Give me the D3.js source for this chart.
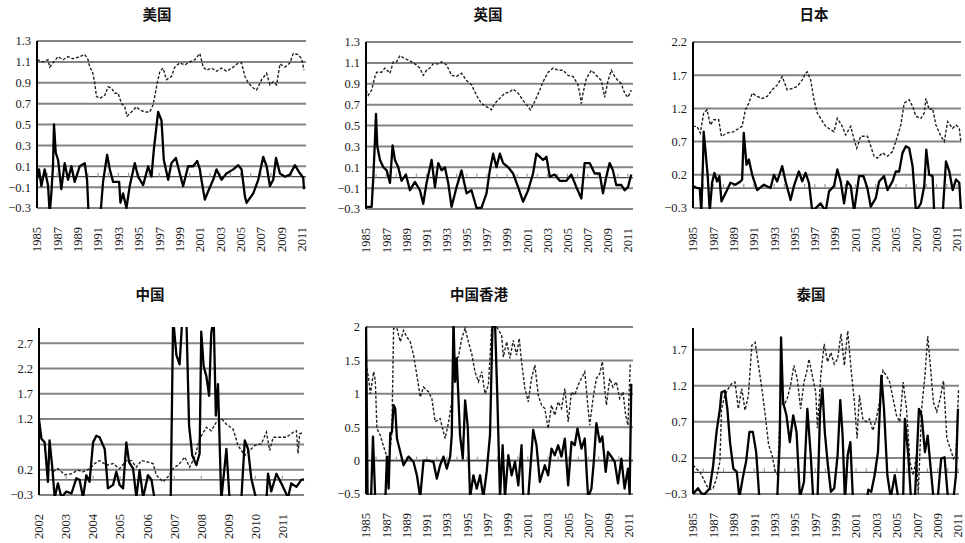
<!DOCTYPE html>
<html>
<head>
<meta charset="utf-8">
<script src="https://cdn.jsdelivr.net/npm/d3@7"></script>
<style>
  body { margin: 0; background: #fff; }
  .title { font-family: "Noto Sans CJK SC", sans-serif; font-weight: bold; font-size: 14.5px; fill: #111; }
  .tick-label { font-family: "Liberation Serif", "DejaVu Serif", serif; font-size: 12.5px; fill: #1a1a1a; }
</style>
</head>
<body>
<svg width="965" height="543"></svg>
<script>
// ---- data: [year, value] ----
var usDash = [[1985.0,1.12],[1985.59,1.10],[1986.08,1.12],[1986.25,1.05],[1986.57,1.09],[1987.07,1.15],[1987.56,1.12],[1988.05,1.15],[1988.54,1.13],[1989.2,1.15],[1989.69,1.17],[1990.02,1.12],[1990.18,1.05],[1990.44,1.01],[1990.67,0.90],[1990.84,0.77],[1991.16,0.75],[1991.66,0.78],[1991.98,0.86],[1992.31,0.85],[1992.64,0.80],[1992.97,0.80],[1993.3,0.70],[1993.62,0.67],[1993.85,0.58],[1994.28,0.62],[1994.77,0.67],[1995.1,0.64],[1995.59,0.62],[1996.08,0.62],[1996.41,0.69],[1996.74,0.86],[1997.07,1.01],[1997.39,1.04],[1997.72,0.93],[1998.21,0.96],[1998.54,1.05],[1999.03,1.09],[1999.52,1.07],[2000.02,1.10],[2000.51,1.12],[2001.0,1.18],[2001.33,1.05],[2001.66,1.02],[2002.15,1.04],[2002.64,1.01],[2003.13,1.04],[2003.62,1.01],[2004.28,1.05],[2004.77,1.09],[2005.1,1.09],[2005.43,0.96],[2005.75,0.90],[2006.25,0.85],[2006.57,0.83],[2007.07,0.93],[2007.56,0.99],[2007.89,0.88],[2008.21,0.91],[2008.54,0.88],[2008.87,1.08],[2009.36,1.05],[2009.85,1.09],[2010.18,1.18],[2010.67,1.17],[2011.0,1.13],[2011.23,1.02]];
var usSolid = [[1985.0,-0.03],[1985.2,0.07],[1985.43,-0.09],[1985.75,0.07],[1986.08,-0.08],[1986.25,-0.35],[1986.41,-0.16],[1986.57,0.10],[1986.67,0.50],[1986.84,0.23],[1987.07,0.16],[1987.39,-0.12],[1987.72,0.13],[1988.05,-0.03],[1988.38,0.10],[1988.7,-0.05],[1989.2,0.10],[1989.69,0.13],[1989.92,-0.03],[1990.11,-0.45],[1991.16,-0.45],[1991.49,-0.05],[1991.89,0.21],[1992.15,0.07],[1992.48,-0.05],[1993.07,-0.05],[1993.2,-0.25],[1993.46,-0.16],[1993.79,-0.30],[1994.11,-0.09],[1994.61,0.13],[1994.93,0.00],[1995.43,-0.08],[1995.92,0.10],[1996.25,0.00],[1996.48,0.26],[1996.9,0.62],[1997.23,0.54],[1997.46,0.16],[1997.89,-0.03],[1998.21,0.13],[1998.64,0.18],[1999.03,0.03],[1999.36,-0.09],[1999.85,0.10],[2000.34,0.10],[2000.74,0.15],[2001.0,0.07],[2001.16,-0.03],[2001.49,-0.22],[2001.82,-0.14],[2002.31,-0.03],[2002.64,0.07],[2003.13,-0.03],[2003.62,0.03],[2004.28,0.07],[2004.77,0.11],[2005.1,0.07],[2005.43,-0.19],[2005.59,-0.25],[2006.25,-0.16],[2006.74,-0.03],[2007.23,0.19],[2007.56,0.10],[2007.89,-0.09],[2008.21,-0.03],[2008.48,0.18],[2008.87,0.03],[2009.36,0.00],[2009.85,0.02],[2010.34,0.11],[2010.84,0.03],[2011.16,-0.01],[2011.23,-0.12]];

var ukDash = [[1985.0,0.84],[1985.23,0.79],[1985.56,0.84],[1985.89,0.97],[1986.06,1.01],[1986.55,1.01],[1986.88,1.05],[1987.38,1.00],[1987.71,1.11],[1988.04,1.11],[1988.37,1.17],[1988.87,1.14],[1989.36,1.12],[1989.86,1.09],[1990.35,1.05],[1990.68,0.98],[1991.01,1.03],[1991.34,1.05],[1991.67,1.09],[1992.17,1.09],[1992.5,1.11],[1993.0,1.08],[1993.49,0.98],[1993.99,0.97],[1994.48,1.00],[1994.98,0.93],[1995.47,0.89],[1995.97,0.79],[1996.46,0.71],[1996.96,0.68],[1997.45,0.65],[1997.78,0.71],[1998.28,0.76],[1998.78,0.81],[1999.27,0.82],[1999.6,0.85],[2000.1,0.81],[2000.59,0.74],[2001.09,0.68],[2001.32,0.65],[2001.75,0.73],[2002.25,0.84],[2002.58,0.92],[2003.07,1.01],[2003.57,1.05],[2004.06,1.03],[2004.56,1.03],[2005.05,0.98],[2005.55,0.97],[2006.04,0.89],[2006.21,0.81],[2006.37,0.71],[2006.54,0.81],[2006.87,0.95],[2007.37,1.03],[2007.86,0.98],[2008.36,0.93],[2008.69,0.77],[2009.02,0.93],[2009.35,1.03],[2009.68,0.97],[2010.01,0.93],[2010.34,0.90],[2010.67,0.81],[2011.0,0.77],[2011.33,0.84]];
var ukSolid = [[1985.0,-0.28],[1985.56,-0.28],[1985.73,0.01],[1985.89,0.36],[1985.99,0.61],[1986.12,0.30],[1986.39,0.17],[1986.72,0.10],[1987.05,0.07],[1987.38,-0.05],[1987.64,0.31],[1987.87,0.17],[1988.2,0.10],[1988.53,-0.03],[1988.96,0.03],[1989.36,-0.12],[1989.86,-0.04],[1990.35,-0.12],[1990.68,-0.25],[1991.01,-0.05],[1991.51,0.17],[1991.84,-0.09],[1992.17,0.14],[1992.5,0.07],[1992.83,0.10],[1993.16,-0.05],[1993.49,-0.28],[1993.99,-0.09],[1994.48,0.07],[1994.98,-0.15],[1995.47,-0.12],[1995.97,-0.29],[1996.46,-0.29],[1996.96,-0.15],[1997.29,0.07],[1997.62,0.23],[1997.95,0.10],[1998.28,0.23],[1998.61,0.14],[1999.11,0.10],[1999.6,0.04],[2000.1,-0.09],[2000.59,-0.23],[2001.09,-0.12],[2001.58,0.04],[2001.91,0.23],[2002.25,0.20],[2002.58,0.17],[2002.91,0.20],[2003.24,0.01],[2003.73,0.03],[2004.23,-0.03],[2004.89,-0.03],[2005.38,0.03],[2005.88,-0.09],[2006.37,-0.20],[2006.7,0.14],[2007.2,0.14],[2007.7,0.04],[2008.19,0.04],[2008.52,-0.15],[2008.85,0.01],[2009.18,0.14],[2009.51,0.07],[2009.84,-0.07],[2010.34,-0.07],[2010.67,-0.12],[2011.0,-0.09],[2011.33,0.03]];

var jpDash = [[1985.0,0.93],[1985.39,0.93],[1985.72,0.83],[1986.05,1.13],[1986.38,1.18],[1986.71,0.95],[1987.04,1.03],[1987.53,1.03],[1987.8,0.78],[1988.36,0.83],[1989.02,0.85],[1989.51,0.90],[1989.84,0.93],[1990.17,1.18],[1990.5,1.28],[1990.83,1.43],[1991.32,1.38],[1991.81,1.35],[1992.31,1.38],[1992.8,1.48],[1993.29,1.55],[1993.79,1.68],[1994.28,1.48],[1994.78,1.50],[1995.27,1.53],[1995.76,1.63],[1996.09,1.73],[1996.26,1.75],[1996.59,1.63],[1996.92,1.33],[1997.24,1.13],[1997.57,1.05],[1998.07,0.93],[1998.56,0.88],[1998.89,0.85],[1999.22,1.05],[1999.71,0.93],[2000.04,0.80],[2000.54,0.93],[2000.87,0.73],[2001.13,0.60],[2001.52,0.78],[2002.18,0.78],[2002.51,0.63],[2002.84,0.48],[2003.17,0.45],[2003.66,0.53],[2004.16,0.48],[2004.65,0.55],[2005.14,0.78],[2005.47,0.95],[2005.8,1.28],[2006.3,1.33],[2006.63,1.23],[2006.96,1.08],[2007.45,1.05],[2007.78,1.13],[2007.94,1.35],[2008.27,1.18],[2008.6,1.20],[2008.93,0.95],[2009.42,0.78],[2009.75,0.70],[2010.08,1.00],[2010.58,0.90],[2010.91,0.95],[2011.23,0.90],[2011.4,0.68]];
var jpSolid = [[1985.0,0.03],[1985.39,0.00],[1985.66,0.00],[1985.82,-0.35],[1985.99,0.43],[1986.05,0.85],[1986.22,0.58],[1986.45,0.18],[1986.65,-0.35],[1986.88,0.08],[1987.11,0.23],[1987.37,0.10],[1987.6,0.18],[1987.8,-0.20],[1988.36,-0.03],[1988.69,0.08],[1989.18,0.05],[1989.67,0.10],[1989.84,0.13],[1990.0,0.83],[1990.27,0.35],[1990.5,0.43],[1990.83,0.20],[1991.32,-0.03],[1991.98,0.05],[1992.64,0.00],[1992.97,0.20],[1993.29,0.10],[1993.79,0.33],[1994.12,0.10],[1994.61,-0.18],[1994.94,0.03],[1995.43,0.25],[1995.76,0.10],[1996.09,0.23],[1996.42,0.08],[1996.75,-0.35],[1997.57,-0.23],[1998.07,-0.35],[1998.4,-0.05],[1998.89,0.03],[1999.22,0.28],[1999.55,0.10],[1999.88,-0.23],[2000.21,0.10],[2000.54,0.03],[2000.87,-0.35],[2001.36,0.18],[2001.79,0.18],[2002.18,0.00],[2002.51,-0.28],[2003.01,-0.15],[2003.33,0.10],[2003.82,0.18],[2004.16,-0.03],[2004.65,0.10],[2004.98,0.25],[2005.31,0.25],[2005.64,0.53],[2005.97,0.63],[2006.3,0.60],[2006.63,0.33],[2006.96,-0.35],[2007.45,-0.23],[2007.78,0.03],[2007.98,0.58],[2008.27,0.20],[2008.6,0.18],[2008.77,-0.40],[2009.59,-0.40],[2009.92,0.40],[2010.25,0.25],[2010.58,-0.03],[2010.91,0.13],[2011.23,0.08],[2011.4,-0.35]];

var cnDash = [[2002.52,0.16],[2002.7,0.22],[2002.95,0.10],[2003.2,0.12],[2003.44,0.19],[2003.63,0.16],[2003.87,0.22],[2004.06,0.32],[2004.24,0.38],[2004.49,0.29],[2004.74,0.32],[2004.98,0.22],[2005.23,0.38],[2005.42,0.38],[2005.6,0.25],[2005.79,0.38],[2006.03,0.35],[2006.22,0.32],[2006.34,0.09],[2006.59,-0.04],[2006.77,0.06],[2006.96,0.22],[2007.2,0.32],[2007.39,0.45],[2007.57,0.25],[2007.76,0.45],[2007.94,0.81],[2008.19,1.04],[2008.37,0.97],[2008.56,1.14],[2008.74,1.21],[2008.93,1.10],[2009.18,1.00],[2009.36,0.68],[2009.61,0.48],[2009.79,0.58],[2009.98,0.68],[2010.22,0.71],[2010.41,0.94],[2010.53,0.58],[2010.66,0.84],[2010.9,0.84],[2011.15,0.84],[2011.4,0.94],[2011.52,0.97],[2011.58,0.52],[2011.64,0.91],[2011.77,0.94]];
var cnSolid = [[2002.0,1.20],[2002.09,0.81],[2002.21,0.74],[2002.27,0.35],[2002.33,-0.04],[2002.39,0.78],[2002.49,0.25],[2002.58,-0.35],[2002.7,-0.07],[2002.83,-0.35],[2003.01,-0.23],[2003.2,-0.27],[2003.38,0.03],[2003.5,0.0],[2003.63,-0.35],[2003.75,0.09],[2003.87,-0.04],[2004.0,0.74],[2004.12,0.87],[2004.24,0.84],[2004.43,0.61],[2004.55,-0.17],[2004.74,-0.10],[2004.86,0.16],[2004.98,-0.10],[2005.11,-0.17],[2005.23,0.74],[2005.33,0.35],[2005.48,0.22],[2005.6,-0.35],[2005.72,0.19],[2005.85,-0.35],[2006.03,0.09],[2006.16,0.0],[2006.28,-0.40],[2006.87,-0.40],[2006.96,3.2],[2007.08,2.47],[2007.2,2.28],[2007.3,3.2],[2007.45,3.2],[2007.55,1.07],[2007.67,0.48],[2007.82,0.29],[2007.94,0.52],[2008.0,2.93],[2008.09,2.24],[2008.19,2.05],[2008.29,1.66],[2008.37,2.9],[2008.46,3.2],[2008.54,1.27],[2008.62,1.89],[2008.74,-0.40],[2008.93,0.61],[2009.05,-0.40],[2009.48,-0.40],[2009.61,0.78],[2009.73,0.61],[2009.85,0.03],[2010.04,-0.40],[2010.41,-0.40],[2010.47,0.12],[2010.59,-0.23],[2010.78,0.12],[2010.96,-0.07],[2011.21,-0.35],[2011.33,-0.07],[2011.52,-0.14],[2011.7,0.0],[2011.8,0.01]];

var hkDash = [[1985.0,1.45],[1985.26,1.23],[1985.43,1.0],[1985.76,1.33],[1985.92,1.20],[1986.08,0.48],[1986.41,0.38],[1986.74,0.21],[1987.07,0.06],[1987.33,0.06],[1987.56,0.43],[1987.73,1.98],[1988.06,1.98],[1988.39,1.78],[1988.71,1.95],[1989.04,1.85],[1989.37,1.78],[1989.7,1.58],[1990.03,1.28],[1990.36,0.95],[1990.69,1.10],[1991.18,1.03],[1991.51,0.93],[1991.84,0.58],[1992.33,0.63],[1992.82,0.33],[1993.15,0.56],[1993.48,0.88],[1993.65,1.53],[1994.14,1.55],[1994.47,1.83],[1994.8,1.98],[1995.12,1.78],[1995.45,1.60],[1995.78,1.33],[1996.11,1.18],[1996.44,1.33],[1996.77,1.0],[1997.1,1.13],[1997.43,2.0],[1997.92,2.0],[1998.41,1.88],[1998.58,1.55],[1998.91,1.78],[1999.23,1.53],[1999.56,1.80],[1999.89,1.58],[2000.15,1.83],[2000.38,1.48],[2000.71,1.08],[2001.04,0.88],[2001.37,1.23],[2001.7,1.43],[2002.03,0.98],[2002.36,0.83],[2002.68,0.78],[2003.01,0.48],[2003.34,0.83],[2003.67,0.68],[2004.0,0.88],[2004.33,0.78],[2004.66,1.08],[2004.99,0.58],[2005.32,1.03],[2005.64,0.98],[2005.97,1.13],[2006.3,1.23],[2006.63,1.33],[2006.96,0.78],[2007.12,0.53],[2007.45,0.93],[2007.78,1.23],[2008.11,1.30],[2008.37,1.48],[2008.6,1.08],[2008.77,0.83],[2009.1,1.23],[2009.42,1.10],[2009.75,1.18],[2010.08,0.93],[2010.41,1.03],[2010.67,0.68],[2010.9,0.53],[2011.13,1.45]];
var hkSolid = [[1985.0,2.1],[1985.16,-0.6],[1985.49,-0.6],[1985.69,0.36],[1985.92,-0.6],[1986.91,-0.6],[1987.07,0.06],[1987.24,-0.42],[1987.4,0.41],[1987.56,0.43],[1987.73,0.83],[1987.89,0.78],[1988.06,0.33],[1988.39,0.13],[1988.71,-0.07],[1989.21,0.06],[1989.7,-0.02],[1990.03,-0.22],[1990.36,-0.55],[1990.69,0.0],[1991.18,0.0],[1991.67,-0.02],[1992.0,-0.27],[1992.33,-0.07],[1992.66,0.06],[1992.99,-0.12],[1993.32,0.06],[1993.48,0.38],[1993.65,2.1],[1993.81,1.18],[1993.97,1.53],[1994.3,0.38],[1994.57,0.03],[1994.8,0.90],[1995.06,0.51],[1995.29,-0.55],[1995.62,-0.22],[1995.95,-0.42],[1996.28,-0.22],[1996.6,-0.55],[1996.93,-0.17],[1997.26,0.38],[1997.52,2.1],[1997.75,2.1],[1997.98,0.98],[1998.25,-0.55],[1998.51,0.23],[1998.74,-0.55],[1999.07,0.08],[1999.4,-0.22],[1999.73,-0.02],[2000.06,-0.37],[2000.38,0.23],[2000.55,-0.55],[2001.04,-0.55],[2001.53,0.46],[2001.86,0.23],[2002.19,-0.32],[2002.68,-0.07],[2003.01,-0.22],[2003.34,0.18],[2003.67,0.08],[2004.0,0.23],[2004.33,0.06],[2004.66,0.33],[2004.99,-0.37],[2005.32,0.28],[2005.64,0.23],[2005.91,0.48],[2006.3,0.18],[2006.63,0.33],[2006.96,-0.55],[2007.29,-0.42],[2007.52,-0.02],[2007.78,0.56],[2008.11,0.28],[2008.37,0.36],[2008.7,-0.17],[2008.93,0.13],[2009.26,0.06],[2009.59,-0.02],[2009.92,-0.34],[2010.25,0.03],[2010.57,-0.42],[2010.9,-0.12],[2011.07,-0.5],[2011.23,1.15]];

var thDash = [[1985.0,0.10],[1985.33,0.05],[1985.66,0.01],[1985.99,-0.08],[1986.32,-0.18],[1986.65,-0.24],[1986.98,-0.22],[1987.31,-0.08],[1987.64,0.15],[1987.8,0.88],[1988.13,1.07],[1988.46,1.16],[1988.79,1.23],[1989.12,1.25],[1989.45,0.88],[1989.78,1.16],[1990.11,0.86],[1990.44,1.07],[1990.77,1.76],[1991.1,1.80],[1991.43,1.48],[1991.76,1.16],[1992.09,0.79],[1992.42,0.38],[1992.75,0.24],[1993.08,0.01],[1993.31,-0.04],[1993.58,0.97],[1993.91,0.93],[1994.24,1.02],[1994.57,1.20],[1994.9,1.48],[1995.23,1.30],[1995.56,0.88],[1995.89,1.25],[1996.22,1.43],[1996.38,1.57],[1996.71,1.34],[1997.04,1.11],[1997.21,0.61],[1997.54,1.34],[1997.87,1.78],[1998.2,1.53],[1998.53,1.66],[1998.86,1.50],[1999.19,1.57],[1999.52,1.92],[1999.85,1.48],[2000.18,1.96],[2000.51,1.43],[2000.84,0.97],[2001.1,0.47],[2001.33,1.07],[2001.66,0.74],[2001.99,0.70],[2002.32,0.74],[2002.65,0.58],[2002.98,0.74],[2003.31,0.97],[2003.64,1.41],[2003.97,1.34],[2004.3,1.25],[2004.63,1.02],[2004.96,0.79],[2005.29,0.70],[2005.62,1.25],[2005.95,0.88],[2006.28,0.15],[2006.61,-0.04],[2006.94,0.24],[2007.1,-0.30],[2007.43,0.88],[2007.76,1.34],[2008.03,1.89],[2008.26,1.53],[2008.59,0.97],[2008.92,0.84],[2009.25,1.02],[2009.58,1.27],[2009.91,0.47],[2010.24,0.33],[2010.57,0.19],[2010.8,0.24],[2011.06,1.16]];
var thSolid = [[1985.0,-0.30],[1985.49,-0.22],[1985.82,-0.29],[1986.15,-0.30],[1986.65,-0.22],[1986.98,0.10],[1987.31,0.56],[1987.64,0.88],[1987.8,1.11],[1988.13,1.13],[1988.37,0.88],[1988.63,0.42],[1988.96,0.05],[1989.29,0.01],[1989.55,-0.35],[1989.88,-0.08],[1990.21,0.15],[1990.54,0.56],[1990.87,0.56],[1991.2,0.28],[1991.53,-0.40],[1993.25,-0.40],[1993.51,0.42],[1993.64,1.87],[1993.84,0.97],[1994.17,0.79],[1994.5,0.42],[1994.83,0.79],[1995.16,0.56],[1995.49,-0.35],[1995.89,-0.13],[1996.22,0.88],[1996.55,0.24],[1996.81,-0.40],[1997.21,-0.40],[1997.47,0.84],[1997.7,1.16],[1997.93,0.56],[1998.2,0.15],[1998.53,-0.27],[1998.86,-0.22],[1999.19,0.24],[1999.45,1.0],[1999.68,0.51],[1999.91,-0.40],[2000.18,0.24],[2000.44,0.42],[2000.7,-0.40],[2002.09,-0.35],[2002.2,-0.24],[2002.49,-0.27],[2002.82,-0.04],[2003.15,0.28],[2003.48,1.34],[2003.74,0.88],[2004.07,-0.04],[2004.4,-0.35],[2004.8,-0.04],[2005.13,-0.35],[2005.62,-0.35],[2005.79,0.74],[2006.12,0.24],[2006.38,-0.35],[2006.78,-0.35],[2007.17,0.88],[2007.43,0.79],[2007.76,0.28],[2008.03,0.51],[2008.26,0.15],[2008.59,-0.35],[2009.02,-0.35],[2009.35,0.19],[2009.68,0.21],[2010.01,-0.35],[2010.57,-0.35],[2010.8,-0.04],[2011.0,0.88]];

// tick values
var yTicks02 = [1.3, 1.1, 0.9, 0.7, 0.5, 0.3, 0.1, -0.1, -0.3];
var yTicksJp = [2.2, 1.7, 1.2, 0.7, 0.2, -0.3];
var yTicksCn = [2.7, 2.2, 1.7, 1.2, 0.7, 0.2, -0.3];
var yLabelsCn = [2.7, 2.2, 1.7, 1.2, 0.2, -0.3];
var yTicksHk = [2, 1.5, 1, 0.5, 0, -0.5];
var yTicksTh = [1.7, 1.2, 0.7, 0.2, -0.3];
var xYearsLong = d3.range(1985, 2012, 2);
var xYearsCn = d3.range(2002, 2012, 1);

var panels = [
  {title: "美国", dash: usDash, solid: usSolid, box: [37, 41, 306, 208], xd: [1985, 2011.43], yd: [-0.3, 1.3],
   grid: yTicks02, labels: yTicks02, years: xYearsLong, ticks0: d3.range(1985, 2012), tx: 157, ty: 15},
  {title: "英国", dash: ukDash, solid: ukSolid, box: [366, 42, 633, 209], xd: [1985, 2011.5], yd: [-0.3, 1.3],
   grid: yTicks02, labels: yTicks02, years: xYearsLong, ticks0: d3.range(1985, 2012), tx: 488, ty: 15},
  {title: "日本", dash: jpDash, solid: jpSolid, box: [693, 42, 961, 208], xd: [1985, 2011.4], yd: [-0.3, 2.2],
   grid: yTicksJp, labels: yTicksJp, years: xYearsLong, ticks0: d3.range(1985, 2012), tx: 814, ty: 15},
  {title: "中国", dash: cnDash, solid: cnSolid, box: [39, 328, 304, 495], xd: [2002, 2011.8], yd: [-0.3, 3.0],
   grid: yTicksCn, labels: yLabelsCn, years: xYearsCn, ticks0: d3.range(2002, 2012), tx: 150, ty: 295},
  {title: "中国香港", dash: hkDash, solid: hkSolid, box: [366, 327, 633, 494], xd: [1985, 2011.4], yd: [-0.5, 2.0],
   grid: yTicksHk, labels: yTicksHk, years: xYearsLong, ticks0: d3.range(1985, 2012), tx: 479, ty: 295},
  {title: "泰国", dash: thDash, solid: thSolid, box: [693, 328, 959, 494], xd: [1985, 2011.1], yd: [-0.3, 2.0],
   grid: yTicksTh, labels: yTicksTh, years: xYearsLong, ticks0: d3.range(1985, 2012), tx: 811, ty: 295}
];

var svg = d3.select("svg");
var fmt = function(v) { return (v < 0 ? "\u2212" : "") + String(Math.abs(v)); };

panels.forEach(function(p, i) {
  var left = p.box[0], top = p.box[1], right = p.box[2], bottom = p.box[3];
  var x = d3.scaleLinear().domain(p.xd).range([left, right]);
  var y = d3.scaleLinear().domain(p.yd).range([bottom, top]);
  var g = svg.append("g");

  g.append("text").attr("class", "title")
    .attr("x", p.tx).attr("y", p.ty).attr("dy", "0.35em")
    .attr("text-anchor", "middle").text(p.title);

  // gridlines
  g.selectAll(".grid").data(p.grid).enter().append("line")
    .attr("x1", left).attr("x2", right)
    .attr("y1", function(d) { return y(d); }).attr("y2", function(d) { return y(d); })
    .attr("stroke", "#838383").attr("stroke-width", 2);

  // zero line with small year ticks
  g.append("line").attr("x1", left).attr("x2", right).attr("y1", y(0)).attr("y2", y(0))
    .attr("stroke", "#444").attr("stroke-width", 1.2);
  g.selectAll(".t0").data(p.ticks0).enter().append("line")
    .attr("x1", function(d) { return x(d); }).attr("x2", function(d) { return x(d); })
    .attr("y1", y(0)).attr("y2", y(0) - 4)
    .attr("stroke", "#999").attr("stroke-width", 1.2);

  // y labels
  g.selectAll(".yl").data(p.labels).enter().append("text")
    .attr("class", "tick-label")
    .attr("font-family", "Liberation Serif")
    .attr("x", left - 6).attr("y", function(d) { return y(d); }).attr("dy", "0.35em")
    .attr("text-anchor", "end").text(fmt);

  // x labels, rotated
  g.selectAll(".xl").data(p.years).enter().append("text")
    .attr("class", "tick-label")
    .attr("font-family", "Liberation Serif")
    .attr("transform", function(d) { return "translate(" + x(d) + "," + (bottom + 19) + ") rotate(-90)"; })
    .attr("dy", "0.35em").attr("text-anchor", "end").text(function(d) { return d; });

  // clip
  g.append("clipPath").attr("id", "clip" + i).append("rect")
    .attr("x", left).attr("y", top - 1).attr("width", right - left + 1).attr("height", bottom - top + 2);

  var line = d3.line().x(function(d) { return x(d[0]); }).y(function(d) { return y(d[1]); });

  g.append("path").datum(p.dash)
    .attr("clip-path", "url(#clip" + i + ")")
    .attr("d", line).attr("fill", "none")
    .attr("stroke", "#222").attr("stroke-width", 1.4)
    .attr("stroke-dasharray", "3,1.8");

  g.append("path").datum(p.solid)
    .attr("clip-path", "url(#clip" + i + ")")
    .attr("d", line).attr("fill", "none")
    .attr("stroke", "#000").attr("stroke-width", 2.3)
    .attr("stroke-linejoin", "round");

  // y axis line
  g.append("line").attr("x1", left).attr("x2", left).attr("y1", top).attr("y2", bottom)
    .attr("stroke", "#000").attr("stroke-width", 2);
});
</script>
</body>
</html>
